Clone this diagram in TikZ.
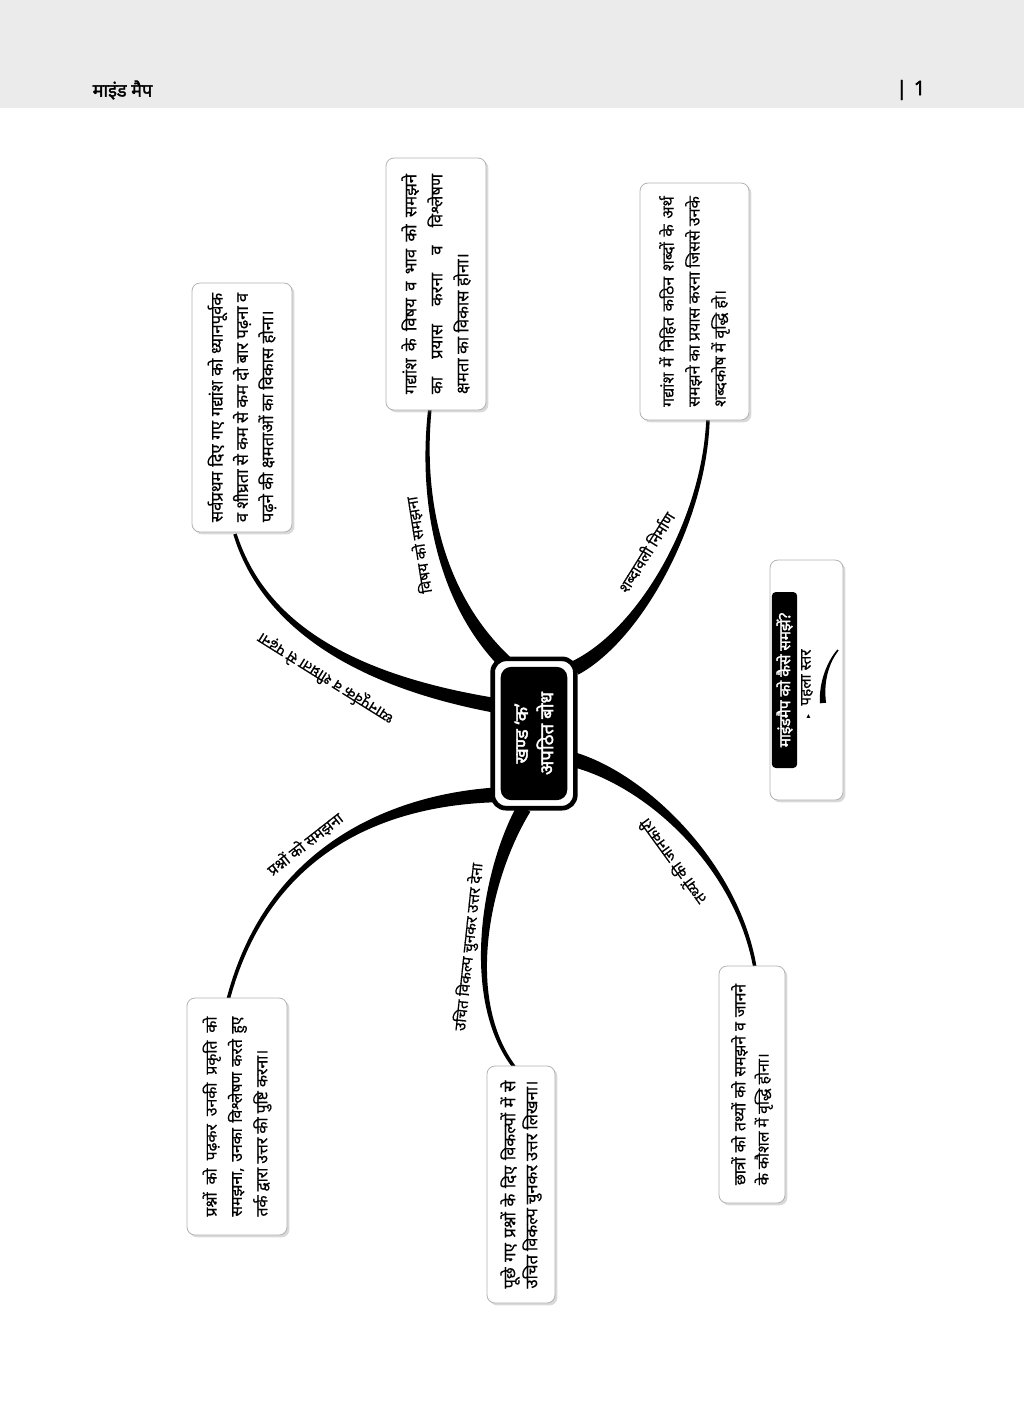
\documentclass[tikz,border=0pt]{standalone}
\usepackage{fontspec}
\setmainfont[Script=Devanagari]{Noto Sans}
\newfontfamily\dev[Script=Devanagari, FakeBold=0.4]{Noto Sans}
\newfontfamily\devb[Script=Devanagari, FakeBold=2]{Noto Sans}
\newfontfamily\sym{DejaVu Sans}
\usetikzlibrary{calc,shadows}
\newcommand\jl[1]{\makebox[\linewidth][s]{#1}\\}
\newcommand\mmbranch[6]{%
  \fill ($(#1)!#5!90:(#2)$) .. controls ($(#2)!0.75*#5!-90:(#1)$) and ($(#3)!1.4*#6!90:(#4)$) .. ($(#4)!#6!-90:(#3)$)
   -- ($(#4)!#6!90:(#3)$) .. controls ($(#3)!1.4*#6!-90:(#4)$) and ($(#2)!0.75*#5!90:(#1)$) .. ($(#1)!#5!-90:(#2)$) -- cycle;}
\begin{document}
\begin{tikzpicture}[x=0.75pt,y=-0.75pt,
  box/.style={draw=black!30, line width=0.6pt, fill=white, rounded corners=6pt,
    drop shadow={shadow xshift=1.8pt, shadow yshift=-1.8pt, opacity=0.3}},
  boxtext/.style={rotate=90, inner sep=0pt, align=left},
  lbl/.style={inner sep=0pt, font=\dev\fontsize{11.5}{13}\selectfont},
]
\useasboundingbox (0,0) rectangle (1024,1404);
\fill[black!8] (0,0) rectangle (1024,108);
\node[font=\devb\fontsize{13.5}{15}\selectfont, anchor=west] (hd) at (88,90) {माइंड मैप};
\node[font=\devb\fontsize{15}{17}\selectfont, anchor=east] (pg) at (930,90) {|\,\,1};

% branch geometry
\coordinate (s1) at (493,705); \coordinate (p1) at (347,679); \coordinate (q1) at (262,621); \coordinate (e1) at (235,534);
\coordinate (s2) at (507,664); \coordinate (p2) at (440,600); \coordinate (q2) at (420,500); \coordinate (e2) at (430,408);
\coordinate (s3) at (575,668); \coordinate (p3) at (640,635); \coordinate (q3) at (705,520); \coordinate (e3) at (708,418);
\coordinate (s4) at (493,795); \coordinate (p4) at (400,800); \coordinate (q4) at (270,840); \coordinate (e4) at (228,1000);
\coordinate (s5) at (524,808); \coordinate (p5) at (485,875); \coordinate (q5) at (462,1000); \coordinate (e5) at (515,1068);
\coordinate (s6) at (575,760); \coordinate (p6) at (650,782); \coordinate (q6) at (738,868); \coordinate (e6) at (755,968);

\mmbranch{s1}{p1}{q1}{e1}{5.5pt}{1.3pt}
\mmbranch{s2}{p2}{q2}{e2}{5.5pt}{1.3pt}
\mmbranch{s3}{p3}{q3}{e3}{5.5pt}{1.3pt}
\mmbranch{s4}{p4}{q4}{e4}{5.5pt}{1.3pt}
\mmbranch{s5}{p5}{q5}{e5}{5.5pt}{1.3pt}
\mmbranch{s6}{p6}{q6}{e6}{5.5pt}{1.3pt}

% branch labels
\node[lbl, rotate=148] (l1) at (326,678) {ध्यानपूर्वक व शीघ्रता से पढ़ना};
\node[lbl, rotate=99] (l2) at (419,545) {विषय को समझना};
\node[lbl, rotate=58] (l3) at (646,552) {शब्दावली निर्माण};
\node[lbl, rotate=38] (l4) at (305,844) {प्रश्नों को समझना};
\node[lbl, rotate=84] (l5) at (469,947) {उचित विकल्प चुनकर उत्तर देना};
\node[lbl, rotate=126] (l6) at (672,862) {तथ्यों की जानकारी};

% boxes
\node[box, minimum width=75pt, minimum height=186.75pt] (b1) at (242,407.5) {};
\node[boxtext, font=\dev\fontsize{12.5}{19}\selectfont] (t1) at (b1) {\parbox{172pt}{\jl{सर्वप्रथम दिए गए गद्यांश को ध्यानपूर्वक}\jl{व शीघ्रता से कम से कम दो बार पढ़ना व}पढ़ने की क्षमताओं का विकास होना।}};
\node[box, minimum width=75pt, minimum height=189pt] (b2) at (436,284) {};
\node[boxtext, font=\dev\fontsize{12.5}{19.5}\selectfont] (t2) at (b2) {\parbox{165pt}{\jl{गद्यांश के विषय व भाव को समझने}\jl{का प्रयास करना व विश्लेषण}क्षमता का विकास होना।}};
\node[box, minimum width=81.75pt, minimum height=177.75pt] (b3) at (694.5,301.5) {};
\node[boxtext, font=\dev\fontsize{12}{19.5}\selectfont] (t3) at (b3) {\parbox{158pt}{\jl{गद्यांश में निहित कठिन शब्दों के अर्थ}\jl{समझने का प्रयास करना जिससे उनके}शब्दकोष में वृद्धि हो।}};
\node[box, minimum width=75pt, minimum height=177.75pt] (b4) at (237,1116.5) {};
\node[boxtext, font=\dev\fontsize{11.8}{19}\selectfont] (t4) at (b4) {\parbox{150pt}{\jl{प्रश्नों को पढ़कर उनकी प्रकृति को}\jl{समझना, उनका विश्लेषण करते हुए}तर्क द्वारा उत्तर की पुष्टि करना।}};
\node[box, minimum width=51pt, minimum height=177.75pt] (b5) at (521,1184.5) {};
\node[boxtext, font=\dev\fontsize{12.5}{16.5}\selectfont] (t5) at (b5) {\parbox{156pt}{\jl{पूछे गए प्रश्नों के दिए विकल्पों में से}उचित विकल्प चुनकर उत्तर लिखना।}};
\node[box, minimum width=49.5pt, minimum height=177.75pt] (b6) at (752,1084.5) {};
\node[boxtext, font=\dev\fontsize{11.8}{17.5}\selectfont] (t6) at (b6) {\parbox{151pt}{\jl{छात्रों को तथ्यों को समझने व जानने}के कौशल में वृद्धि होना।}};

% centre
\node[draw=black, line width=3.5pt, fill=white, rounded corners=10pt, minimum width=62pt, minimum height=112pt] (c) at (534,733.5) {};
\node[rotate=90, fill=black, text=white, rounded corners=8pt, minimum width=100pt, minimum height=50pt, align=center,
  font=\devb\fontsize{14}{19}\selectfont] (ct) at (534,733.5) {खण्ड ‘क’\\अपठित बोध};

% legend
\node[box, minimum width=54.75pt, minimum height=180pt] (lg) at (806.5,680) {};
\node[rotate=90, fill=black, text=white, rounded corners=3pt, minimum width=132pt, minimum height=19pt, inner sep=2pt,
  font=\devb\fontsize{11.5}{13}\selectfont] (lt) at (784.5,680) {माइंडमैप को कैसे समझें?};
\node[rotate=90, anchor=west, inner sep=0pt, font=\dev\fontsize{11.5}{13}\selectfont] (ls) at (807,719) {{\sym\fontsize{6}{7}\selectfont ▸}\,\, पहला स्तर};
\coordinate (as) at (823,703); \coordinate (ap) at (821,682); \coordinate (aq) at (828,662); \coordinate (ae) at (838,650);
\mmbranch{as}{ap}{aq}{ae}{2.3pt}{0.6pt}
\end{tikzpicture}
\end{document}
